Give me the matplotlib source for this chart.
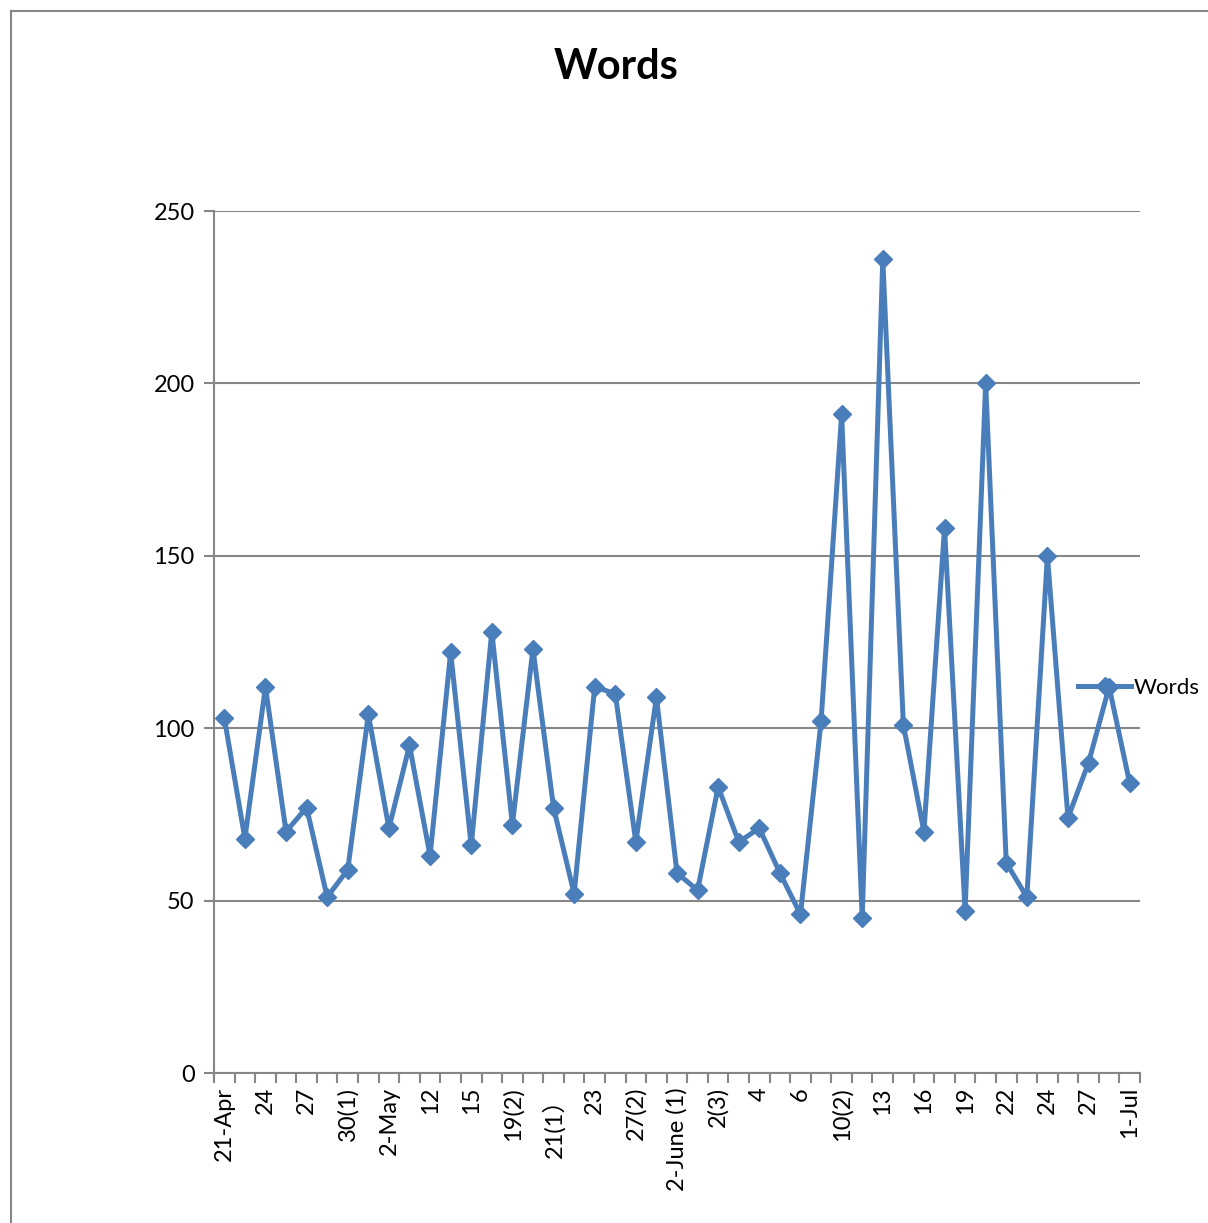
import matplotlib
matplotlib.use("Agg")
import matplotlib.pyplot as plt
from matplotlib.lines import Line2D
import numpy as np

plt.rcParams['font.family'] = ['Lato', 'Noto Sans CJK SC', 'DejaVu Sans']

# Word counts per entry, in order
words = [103, 68, 112, 70, 77, 51, 59, 104, 71, 95,
         63, 122, 66, 128, 72, 123, 77, 52, 112, 110,
         67, 109, 58, 53, 83, 67, 71, 58, 46, 102,
         191, 45, 236, 101, 70, 158, 47, 200, 61, 51,
         150, 74, 90, 112, 84]

# Labels shown on every other entry
tick_labels = ["21-Apr", "24", "27", "30(1)", "2-May", "12", "15", "19(2)",
               "21(1）", "23", "27(2)", "2-June (1)", "2(3)", "4", "6", "10(2)",
               "13", "16", "19", "22", "24", "27", "1-Jul"]

yticks = [0, 50, 100, 150, 200, 250]

blue = "#4a7ebb"
gray = "#868686"

fig = plt.figure(figsize=(12.08, 12.23), dpi=100)
ax = fig.add_axes([214 / 1208, 1 - 1073 / 1223, 926 / 1208, 862 / 1223])

x = np.arange(len(words))
ax.plot(x, words, color=blue, lw=3.6, marker="D", markersize=9,
        markerfacecolor=blue, markeredgecolor=blue, zorder=3, clip_on=False)

ax.set_xlim(-0.5, len(words) - 0.5)
ax.set_ylim(0, 250)

ax.set_yticks(yticks)
ax.set_yticklabels([str(v) for v in yticks], fontsize=17)
ax.yaxis.grid(True, color=gray, lw=1.5)
ax.set_axisbelow(True)

ax.set_xticks(x[::2])
ax.set_xticklabels(tick_labels, rotation=90, fontsize=17)
ax.tick_params(axis="x", length=0, pad=10)
ax.set_xticks(np.arange(len(words) + 1) - 0.5, minor=True)
ax.tick_params(axis="x", which="minor", length=7, width=1.5, color=gray, direction="out")
ax.tick_params(axis="y", length=7, width=1.5, color=gray, direction="out", pad=7)

for side in ("top", "right"):
    ax.spines[side].set_visible(False)
for side in ("left", "bottom"):
    ax.spines[side].set_color(gray)
    ax.spines[side].set_linewidth(1.5)

fig.text(616 / 1208, 1 - 67 / 1223, "Words", ha="center", va="center",
         fontsize=30, fontweight="bold")

# Chart area border (top and left edges)
fig.add_artist(Line2D([11 / 1208, 1.0], [1 - 11 / 1223, 1 - 11 / 1223],
                      transform=fig.transFigure, color=gray, lw=1.5))
fig.add_artist(Line2D([11 / 1208, 11 / 1208], [0.0, 1 - 11 / 1223],
                      transform=fig.transFigure, color=gray, lw=1.5))

handle = Line2D([], [], color=blue, lw=3.6, marker="D", markersize=9,
                markerfacecolor=blue, markeredgecolor=blue)
fig.legend([handle], ["Words"], loc="center left", numpoints=1,
           bbox_to_anchor=(1078 / 1208, 1 - 688 / 1223), frameon=False,
           fontsize=16, handlelength=2.4, handletextpad=0.1,
           borderaxespad=0, borderpad=0)

fig.savefig("out.png", dpi=100)
